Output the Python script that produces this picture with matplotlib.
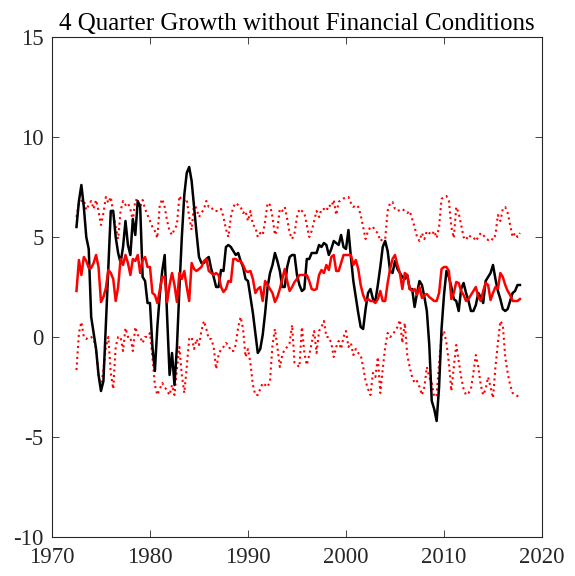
import numpy as np
import matplotlib
matplotlib.use("Agg")
import matplotlib.pyplot as plt

start_year = 1972.5
quarter_step = 0.25

realized = [
    5.5, 6.8,
    7.6, 6.5, 5.0, 4.4,
    1.0, 0.2, -0.6, -1.9,
    -2.7, -2.2, 0.6, 3.5,
    6.3, 6.3, 5.0, 4.2,
    3.7, 4.5, 5.8, 4.6,
    4.1, 5.9, 5.1, 6.8,
    6.5, 3.0, 2.8, 1.7,
    1.7, -0.5, -1.7, 0.5,
    2.1, 3.3, 4.1, 1.0,
    -1.9, -0.8, -2.4, -0.5,
    2.4, 5.0, 7.1, 8.2,
    8.5, 7.8, 6.5, 5.2,
    4.0, 3.7, 3.7, 3.9,
    4.0, 3.4, 3.0, 2.5,
    2.5, 3.35, 3.3, 4.5,
    4.6, 4.5, 4.3, 4.1,
    4.2, 3.8, 3.5, 2.9,
    2.8, 2.0, 1.2, 0.2,
    -0.8, -0.6, 0.1, 1.2,
    2.5, 3.2, 3.6, 4.2,
    3.8, 3.3, 2.5, 2.5,
    3.5, 4.0, 4.1, 4.1,
    3.1, 2.6, 2.3, 2.4,
    3.9, 3.9, 4.2, 4.2,
    4.2, 4.6, 4.5, 4.7,
    4.6, 4.1, 4.4, 4.8,
    4.7, 4.6, 5.1, 4.5,
    4.4, 5.35, 4.0, 2.8,
    2.0, 1.2, 0.5, 0.4,
    1.4, 2.2, 2.4, 1.9,
    1.8, 2.6, 3.5, 4.5,
    4.8, 4.3, 3.3, 3.2,
    3.8, 3.4, 3.2, 3.0,
    2.9, 3.1, 2.4, 2.4,
    1.5, 2.2, 2.8, 2.6,
    2.0, 1.3, -0.4, -3.2,
    -3.6, -4.2, -2.5, 0.4,
    2.1, 3.3, 3.0, 2.5,
    1.9, 1.8, 1.3, 2.4,
    2.7, 2.2, 1.8, 1.3,
    1.3, 1.6, 2.2, 2.0,
    1.7, 2.8, 3.0, 3.2,
    3.6, 2.9, 2.3, 1.9,
    1.4, 1.3, 1.4, 1.8,
    2.2, 2.3, 2.6, 2.6,
]

median = [
    2.3, 3.85,
    3.1, 4.0, 3.8, 3.45,
    3.45, 3.7, 4.1, 3.5,
    1.75, 2.0, 2.45, 3.35,
    3.2, 2.9, 1.8, 2.5,
    3.9, 3.6, 4.1, 3.7,
    3.1, 3.9, 3.8, 4.1,
    3.2, 3.85, 4.0, 3.5,
    3.5, 2.2, 2.1, 1.7,
    2.35, 3.0, 3.0, 1.75,
    2.6, 3.2, 2.6, 1.75,
    3.2, 2.9, 3.3, 2.5,
    1.8, 3.7, 3.4, 3.3,
    3.4, 3.5, 3.8, 3.9,
    3.3, 3.2, 3.1, 3.2,
    3.1, 2.5, 2.25, 2.4,
    2.8, 2.75, 3.9, 3.9,
    3.8, 3.8, 3.6, 3.3,
    3.25, 3.3, 2.9, 2.2,
    2.4, 2.5, 1.8, 2.8,
    2.6, 2.4, 2.2, 1.75,
    2.0, 2.4, 2.9, 3.4,
    2.8, 2.3, 2.5, 2.75,
    2.9, 3.1, 3.1, 3.1,
    3.1, 2.8, 2.4, 2.35,
    2.4, 3.1, 3.35, 3.2,
    3.6, 3.35, 4.0, 4.1,
    3.3, 3.3, 3.7, 4.1,
    4.1, 4.1, 4.1, 3.6,
    3.85, 3.4, 2.6, 2.1,
    1.8, 1.9, 1.8, 1.8,
    1.7, 1.9, 2.3, 1.8,
    1.8, 2.7, 3.4, 3.9,
    4.1, 3.6, 3.2, 2.4,
    3.2, 3.1, 2.4, 2.3,
    2.4, 2.1, 2.5, 1.95,
    2.1, 2.15, 2.0, 1.9,
    1.8, 1.8, 2.2, 3.4,
    3.5, 3.5, 3.3, 1.9,
    2.2, 2.75, 2.7, 2.3,
    2.1, 1.8, 1.9, 2.1,
    2.3, 2.5, 2.0, 1.8,
    2.3, 2.7, 2.6, 1.85,
    2.2, 2.5, 2.4, 3.2,
    3.0, 2.6, 2.3, 2.1,
    1.8, 1.8, 1.8, 1.9,
]

upper = [
    6.0, 6.7,
    6.8, 6.85, 6.35, 6.6,
    6.8, 6.4, 6.85, 6.3,
    5.6, 6.2, 7.0, 6.7,
    7.0, 6.2, 5.5, 4.9,
    6.3, 6.8, 6.6, 6.7,
    6.4, 5.8, 6.85, 6.85,
    6.5, 6.85, 6.4, 6.1,
    5.8, 5.5, 5.3, 4.95,
    6.6, 6.9, 6.5, 5.8,
    5.3, 5.1, 5.4, 5.6,
    7.05, 6.85, 6.8, 6.9,
    6.0, 5.35, 6.7, 6.4,
    6.0, 6.2, 6.4, 6.8,
    6.5, 6.5, 6.3, 6.3,
    6.3, 6.4, 6.0, 5.4,
    5.0, 6.0, 6.5, 6.7,
    6.6, 6.5, 6.2, 6.3,
    5.8, 6.3, 5.6, 5.5,
    5.0, 5.2, 5.1, 5.8,
    6.7, 6.6, 6.0, 5.1,
    5.4, 6.4, 6.3, 6.5,
    5.9, 5.2, 4.9, 5.2,
    6.0, 6.4, 6.3, 6.2,
    5.6, 5.0, 5.3, 5.8,
    6.3, 6.0, 6.4, 6.4,
    6.3, 6.6, 6.5, 6.85,
    6.1, 6.75, 6.85, 6.93,
    6.95, 7.0, 6.7, 6.5,
    6.6, 6.5, 6.1, 5.5,
    4.9, 5.3, 5.5, 5.5,
    5.3, 5.2, 4.8, 4.9,
    4.9, 6.3, 6.7, 6.75,
    6.4, 6.3, 6.35, 6.4,
    6.3, 6.2, 6.3, 5.9,
    5.5, 5.0, 4.8, 5.2,
    4.9, 5.3, 5.2, 5.1,
    5.3, 4.95, 5.5, 6.9,
    7.0, 7.05, 6.8, 5.5,
    4.95, 6.5, 6.2, 5.6,
    5.0, 4.85, 5.1, 5.0,
    5.0, 4.8, 5.0, 5.2,
    5.1, 4.95, 4.85, 4.95,
    4.85, 5.1, 6.1, 5.8,
    6.4, 6.5, 6.2, 5.6,
    5.0, 5.2, 5.0, 5.2,
]

lower = [
    -1.65, 0.2,
    0.75, 0.0, -0.1, 0.0,
    0.0, -0.1, -0.6, -1.9,
    -2.6, -1.6, -0.5, 0.0,
    -1.8, -2.6, -0.5, 0.0,
    0.0, -0.7, 0.45, 0.0,
    0.0, -0.7, 0.5, 0.1,
    0.0, -0.3, 0.0, 0.0,
    0.2, -1.0, -2.4, -2.9,
    -2.6, -2.3, -2.5, -2.7,
    -2.9, -2.4, -2.9, -1.6,
    -0.5, -1.9, -2.8, -1.5,
    -0.1, 0.0, -0.6, -0.1,
    -0.4, 0.3, 0.8, 0.4,
    -0.1, -0.1, -0.5, -1.6,
    -0.9, -0.6, -0.5, -0.3,
    -0.4, -0.7, -0.7, -0.4,
    0.5, 1.0, 0.4, -1.0,
    -0.6, -1.3, -2.4, -2.9,
    -2.9, -2.6, -2.3, -2.4,
    -2.5, -2.2, -0.4, 0.4,
    -0.5, -1.5, -0.9, -0.6,
    -0.5, -0.3, 0.6, -1.3,
    -1.4, -1.5, 0.5, -0.8,
    -1.4, -0.9, -0.3, 0.3,
    -0.8, 0.3, 0.5, 0.8,
    0.0, 0.0, -0.3, -1.0,
    -0.5, -0.2, -0.6, 0.0,
    0.3, -0.5, -0.3, -0.9,
    -0.6, -0.8, -0.9, -1.5,
    -2.2, -2.6, -2.9, -1.8,
    -2.0, -1.0, -2.8, -1.6,
    -0.5, 0.2, 0.0, 0.1,
    0.3, 0.5, 0.85, -0.3,
    0.7, -0.9, -1.5, -2.0,
    -2.3, -2.2, -2.5, -2.9,
    -2.5, -1.5, -2.0, -2.3,
    -3.0, -2.9, -1.3, 0.0,
    0.3, -0.3, -1.3, -2.7,
    -1.5, -0.4, -1.2, -2.0,
    -2.6, -2.9, -2.8, -2.6,
    -1.8, -0.9, -1.5, -2.4,
    -2.9, -2.6, -2.0, -2.5,
    -3.05, -1.5, -0.3, 0.8,
    0.6, -1.0, -1.8, -2.4,
    -2.8, -2.9, -2.95, -3.0,
]

title_text = "4 Quarter Growth without Financial Conditions"
x_ticks = [1970, 1980, 1990, 2000, 2010, 2020]
y_ticks = [-10, -5, 0, 5, 10, 15]

dates = start_year + quarter_step * np.arange(len(realized))

plt.rcParams['font.family'] = ['Liberation Serif', 'DejaVu Serif']
plt.rcParams['axes.unicode_minus'] = False

fig = plt.figure(figsize=(5.75, 5.76), dpi=100)
ax = fig.add_axes([0.0904, 0.0677, 0.8522, 0.8681])

ax.plot(dates, upper, color='#ff0000', linestyle=':', linewidth=1.5)
ax.plot(dates, lower, color='#ff0000', linestyle=':', linewidth=1.5)
ax.plot(dates, realized, color='black', linewidth=1.8)
ax.plot(dates, median, color='#ff0000', linewidth=1.8)

ax.set_xlim(1970, 2020)
ax.set_ylim(-10, 15)
ax.set_xticks(x_ticks)
ax.set_yticks(y_ticks)
ax.tick_params(direction='in', top=True, right=True, labelsize=16.5,
               length=5, width=0.6, color='#262626', labelcolor='#262626')
ax.tick_params(axis='x', pad=7)
ax.tick_params(axis='y', pad=6)
for s in ax.spines.values():
    s.set_color('#262626')
    s.set_linewidth(0.8)
ax.set_title(title_text, fontsize=18, color='black', pad=5)

fig.savefig("out.png", dpi=100)
